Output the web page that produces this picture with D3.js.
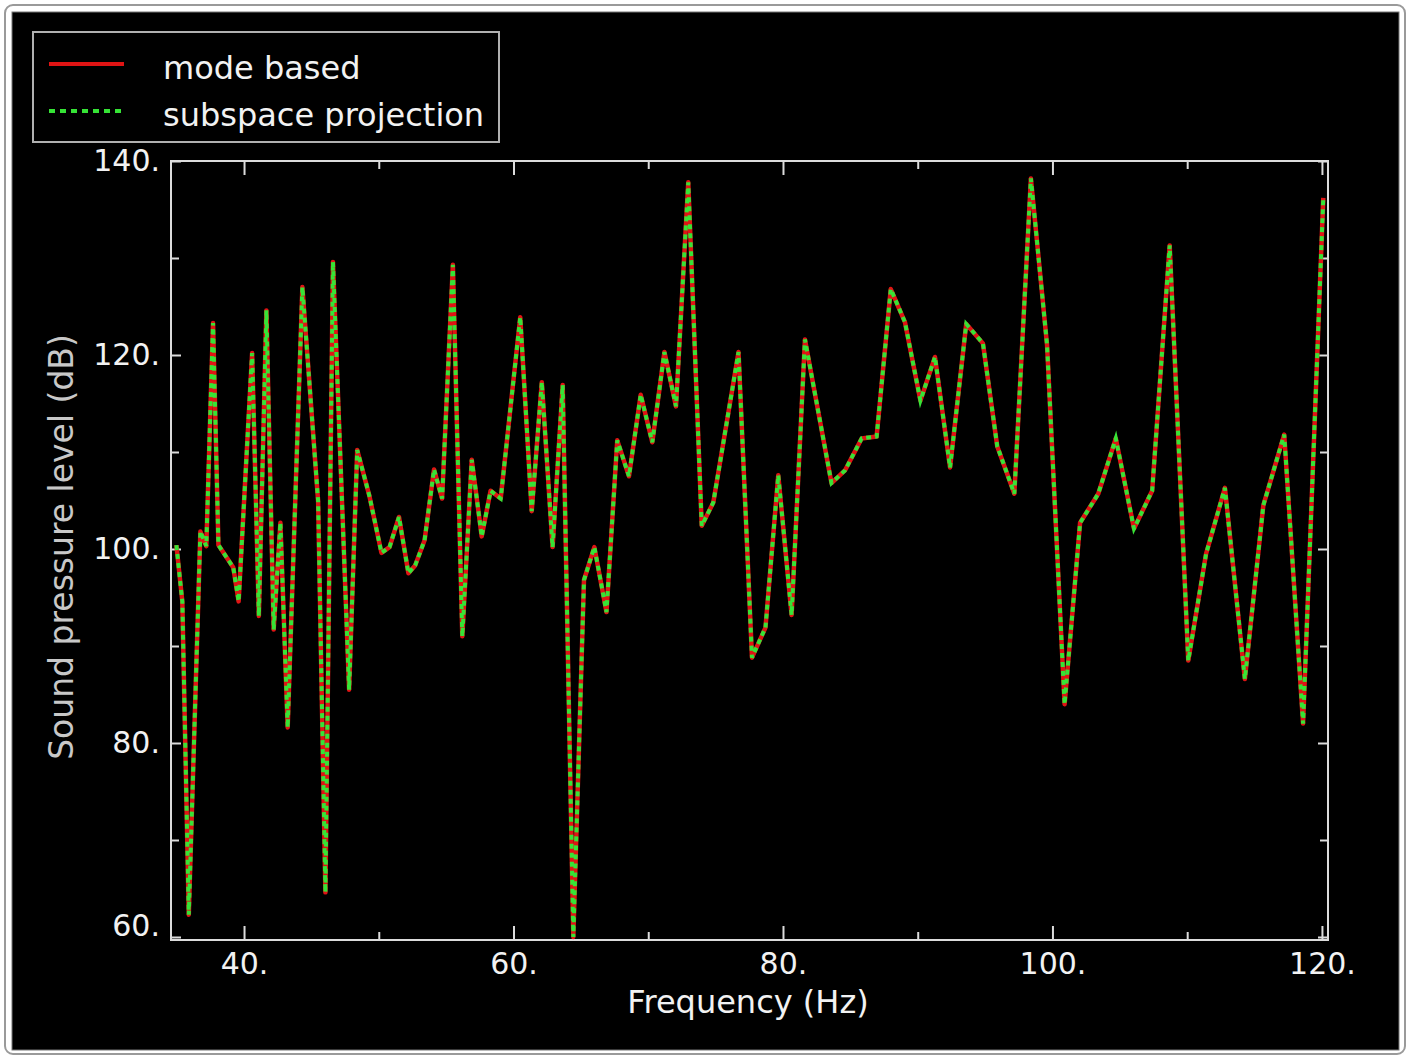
<!DOCTYPE html>
<html>
<head>
<meta charset="utf-8">
<script src="https://cdn.jsdelivr.net/npm/d3@7"></script>
<style>
  body { margin: 0; background: #fff; }
  svg { display: block; font-family: "DejaVu Sans", Verdana, sans-serif; }
</style>
</head>
<body>
<svg id="chart" width="1411" height="1057"></svg>
<script>
// frequency (Hz) of each computed point
var freq = [34.98, 35.42, 35.9, 36.76, 37.2, 37.7, 38.1, 39.2, 39.6, 40.6,
  41.1, 41.66, 42.2, 42.7, 43.24, 44.33, 45.5, 46.04, 46.6, 47.8,
  48.4, 49.3, 50.2, 50.8, 51.5, 52.2, 52.7, 53.4, 54.1, 54.7,
  55.5, 56.2, 56.9, 57.64, 58.3, 59.05, 60.5, 61.35, 62.1, 62.9,
  63.65, 64.44, 65.23, 66.0, 66.9, 67.7, 68.57, 69.44, 70.3, 71.2,
  72.06, 72.97, 73.97, 74.83, 76.7, 77.7, 78.7, 79.65, 80.64, 81.63,
  82.6, 83.6, 84.6, 85.84, 86.95, 88.0, 89.05, 90.2, 91.28, 92.4,
  93.6, 94.84, 95.9, 97.17, 98.4, 99.6, 100.9, 102.05, 103.4, 104.7,
  106.05, 107.4, 108.7, 110.08, 111.4, 112.8, 114.28, 115.65, 117.2, 118.6,
  120.1];

// sound pressure level (dB), mode based
var modeBased = [100.4, 94.6, 62.3, 101.8, 100.3, 123.3, 100.4, 98.1, 94.6, 120.2,
  93.1, 124.6, 91.7, 102.7, 81.6, 127.0, 104.9, 64.6, 129.6, 85.5,
  110.2, 105.5, 99.6, 100.2, 103.3, 97.5, 98.3, 100.9, 108.2, 105.2,
  129.3, 91.0, 109.2, 101.3, 106.0, 105.2, 123.9, 103.9, 117.2, 100.2,
  116.9, 60.0, 96.8, 100.2, 93.5, 111.2, 107.5, 115.9, 111.0, 120.3,
  114.7, 137.8, 102.4, 104.8, 120.3, 88.8, 91.9, 107.6, 93.2, 121.6,
  114.3, 106.8, 108.1, 111.4, 111.6, 126.8, 123.4, 115.3, 119.8, 108.4,
  123.2, 121.2, 110.6, 105.7, 138.2, 121.0, 84.0, 102.7, 105.7, 111.4,
  102.1, 106.0, 131.3, 88.5, 99.5, 106.3, 86.6, 104.5, 111.8, 82.0,
  136.2];

// sound pressure level (dB), subspace projection
var subspace = [100.4, 94.6, 62.3, 101.8, 100.3, 123.3, 100.4, 98.1, 94.6, 120.2,
  93.1, 124.6, 91.7, 102.7, 81.6, 127.0, 104.9, 64.6, 129.6, 85.5,
  110.2, 105.5, 99.6, 100.2, 103.3, 97.5, 98.3, 100.9, 108.2, 105.2,
  129.3, 91.0, 109.2, 101.3, 106.0, 105.2, 123.9, 103.9, 117.2, 100.2,
  116.9, 60.0, 96.8, 100.2, 93.5, 111.2, 107.5, 115.9, 111.0, 120.3,
  114.7, 137.8, 102.4, 104.8, 120.3, 88.8, 91.9, 107.6, 93.2, 121.6,
  114.3, 106.8, 108.1, 111.4, 111.6, 126.8, 123.4, 115.3, 119.8, 108.4,
  123.2, 121.2, 110.6, 105.7, 138.2, 121.0, 84.0, 102.7, 105.7, 111.4,
  102.1, 106.0, 131.3, 88.5, 99.5, 106.3, 86.6, 104.5, 111.8, 82.0,
  136.2];

var seriesNames = ["mode based", "subspace projection"];
var xMajor = [40, 60, 80, 100, 120];
var xMinor = [50, 70, 90, 110];
var yMajor = [60, 80, 100, 120, 140];
var yMinor = [70, 90, 110, 130];

var margin = {top: 161, right: 83, bottom: 117, left: 171},
    width = 1411 - margin.left - margin.right,
    height = 1057 - margin.top - margin.bottom;

var svg = d3.select("#chart");

// page frame: grey rounded border, black panel inside
svg.append("rect")
    .attr("x", 5).attr("y", 5).attr("width", 1400).attr("height", 1049)
    .attr("rx", 8)
    .attr("fill", "#fff").attr("stroke", "#9a9a9a").attr("stroke-width", 2);
svg.append("rect")
    .attr("x", 12).attr("y", 12).attr("width", 1387).attr("height", 1038)
    .attr("fill", "#000").attr("stroke", "#777").attr("stroke-width", 1);

var g = svg.append("g")
    .attr("transform", "translate(" + margin.left + "," + margin.top + ")");

var x = d3.scaleLinear().domain([34.58, 120.45]).range([0, width]);
var y = d3.scaleLinear().domain([59.69, 140]).range([height, 0]);

var axisColor = "#dcdcdc";

function styleAxis(sel) {
  sel.select(".domain").remove();
  sel.selectAll(".tick line").attr("stroke", axisColor).attr("stroke-width", 2);
  sel.selectAll(".tick text")
      .attr("fill", "#f2f2f2")
      .style("font-size", "30px")
      .style("font-family", "DejaVu Sans, Verdana, sans-serif");
}

// bottom axis with labels
g.append("g")
    .attr("transform", "translate(0," + height + ")")
    .call(d3.axisBottom(x).tickValues(xMajor).tickSize(-14).tickPadding(13)
      .tickFormat(function(d) { return d + "."; }))
    .call(styleAxis);
g.append("g")
    .attr("transform", "translate(0," + height + ")")
    .call(d3.axisBottom(x).tickValues(xMinor).tickSize(-8).tickFormat(""))
    .call(styleAxis);
// top axis, ticks only
g.append("g")
    .call(d3.axisTop(x).tickValues(xMajor).tickSize(-14).tickFormat(""))
    .call(styleAxis);
g.append("g")
    .call(d3.axisTop(x).tickValues(xMinor).tickSize(-8).tickFormat(""))
    .call(styleAxis);

// left axis with labels
var yLeft = g.append("g")
    .call(d3.axisLeft(y).tickValues(yMajor).tickSize(-10).tickPadding(11)
      .tickFormat(function(d) { return d + "."; }))
    .call(styleAxis);
// the lowest label sits a little above its tick
yLeft.selectAll(".tick text")
    .attr("y", function(d) { return d === 60 ? -11 : 0; });
g.append("g")
    .call(d3.axisLeft(y).tickValues(yMinor).tickSize(-8).tickFormat(""))
    .call(styleAxis);
// right axis, ticks only
g.append("g")
    .attr("transform", "translate(" + width + ",0)")
    .call(d3.axisRight(y).tickValues(yMajor).tickSize(-10).tickFormat(""))
    .call(styleAxis);
g.append("g")
    .attr("transform", "translate(" + width + ",0)")
    .call(d3.axisRight(y).tickValues(yMinor).tickSize(-8).tickFormat(""))
    .call(styleAxis);

// plot frame
g.append("rect")
    .attr("width", width).attr("height", height)
    .attr("fill", "none").attr("stroke", axisColor).attr("stroke-width", 2);

// axis titles
svg.append("text")
    .attr("x", 748)
    .attr("y", 1013)
    .attr("text-anchor", "middle")
    .attr("fill", "#f2f2f2")
    .style("font-size", "32px")
    .text("Frequency (Hz)");

svg.append("text")
    .attr("transform", "translate(73," + (margin.top + y(100) - 2) + ") rotate(-90)")
    .attr("text-anchor", "middle")
    .attr("fill", "#c8c8c8")
    .style("font-size", "33px")
    .text("Sound pressure level (dB)");

// lines
var line = d3.line()
    .x(function(d) { return x(d[0]); })
    .y(function(d) { return y(d[1]); });

var modeData = freq.map(function(f, i) { return [f, modeBased[i]]; });
var subData = freq.map(function(f, i) { return [f, subspace[i]]; });

g.append("path")
    .datum(modeData)
    .attr("d", line)
    .attr("fill", "none")
    .attr("stroke", "#e01414")
    .attr("stroke-width", 4.5)
    .attr("stroke-linejoin", "round");

g.append("path")
    .datum(subData)
    .attr("d", line)
    .attr("fill", "none")
    .attr("stroke", "#36e436")
    .attr("stroke-width", 4)
    .attr("stroke-dasharray", "5,4")
    .attr("stroke-linejoin", "miter");

// legend
var legend = svg.append("g");
legend.append("rect")
    .attr("x", 33).attr("y", 32).attr("width", 466).attr("height", 110)
    .attr("fill", "#000").attr("stroke", "#b0b0b0").attr("stroke-width", 2);

var legendItems = [
  {name: seriesNames[0], color: "#e01414", dash: null, y: 64},
  {name: seriesNames[1], color: "#36e436", dash: "6,5", y: 111}
];

legendItems.forEach(function(item) {
  legend.append("line")
      .attr("x1", 49).attr("x2", 124)
      .attr("y1", item.y).attr("y2", item.y)
      .attr("stroke", item.color)
      .attr("stroke-width", 4)
      .attr("stroke-dasharray", item.dash);
  legend.append("text")
      .attr("x", 163).attr("y", item.y + 15)
      .attr("fill", "#f2f2f2")
      .style("font-size", "32px")
      .text(item.name);
});
</script>
</body>
</html>
